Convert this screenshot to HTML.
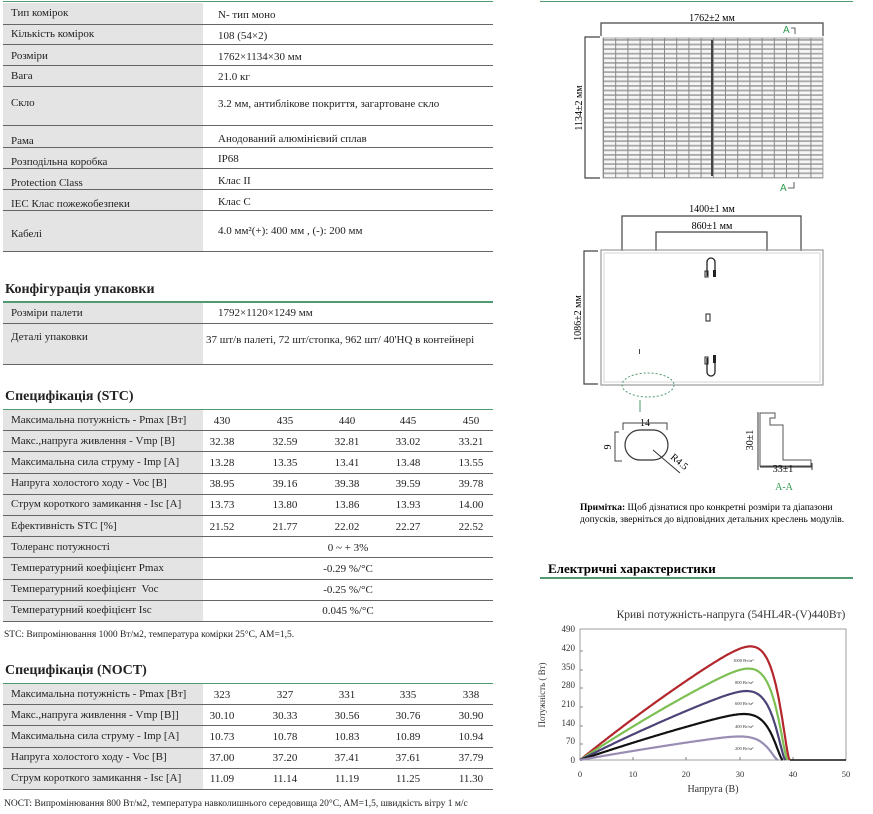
<!DOCTYPE html>
<html><head><meta charset="utf-8">
<style>
*{margin:0;padding:0;box-sizing:border-box}
body{width:873px;height:814px;background:#fff;position:relative;overflow:hidden;font-family:"Liberation Serif","DejaVu Serif",serif;color:#222;font-size:11px}
.r{position:absolute;left:3px;width:490px;border-bottom:1px solid #666}
.l{position:absolute;left:0;top:0;bottom:0;width:200px;background:#e4e4e4}
.t{position:absolute;white-space:nowrap;font-size:11px}
.v{position:absolute;white-space:nowrap;font-size:11px;transform:translateX(-50%)}
.h{position:absolute;left:5px;font-weight:bold;font-size:14px;white-space:nowrap}
.g{position:absolute;height:2px;background:#4f9a6e}
.f{position:absolute;left:4px;font-size:9.5px;white-space:nowrap}
</style></head><body>

<div class="g" style="left:3px;top:1px;width:490px;height:1px"></div>
<div class="g" style="left:540px;top:1px;width:313px;height:1px"></div>

<div class="r" style="top:3px;height:22px"><div class="l"></div><span class="t" style="left:8px;top:4px">Тип комірок</span><span class="t" style="left:215px;top:6px">N- тип моно</span></div>
<div class="r" style="top:25px;height:20px"><div class="l"></div><span class="t" style="left:8px;top:3px">Кількість комірок</span><span class="t" style="left:215px;top:5px">108 (54×2)</span></div>
<div class="r" style="top:45px;height:21px"><div class="l"></div><span class="t" style="left:8px;top:5px">Розміри</span><span class="t" style="left:215px;top:6px">1762×1134×30 мм</span></div>
<div class="r" style="top:66px;height:21px"><div class="l"></div><span class="t" style="left:8px;top:4px">Вага</span><span class="t" style="left:215px;top:5px">21.0 кг</span></div>
<div class="r" style="top:87px;height:39px"><div class="l"></div><span class="t" style="left:8px;top:10px">Скло</span><span class="t" style="left:215px;top:11px">3.2 мм, антиблікове покриття, загартоване скло</span></div>
<div class="r" style="top:126px;height:22px"><div class="l"></div><span class="t" style="left:8px;top:9px">Рама</span><span class="t" style="left:215px;top:7px">Анодований алюмінієвий сплав</span></div>
<div class="r" style="top:148px;height:21px"><div class="l"></div><span class="t" style="left:8px;top:8px">Розподільна коробка</span><span class="t" style="left:215px;top:5px">IP68</span></div>
<div class="r" style="top:169px;height:21px"><div class="l"></div><span class="t" style="left:8px;top:8px">Protection Class</span><span class="t" style="left:215px;top:6px">Клас II</span></div>
<div class="r" style="top:190px;height:21px"><div class="l"></div><span class="t" style="left:8px;top:8px">IEC Клас пожежобезпеки</span><span class="t" style="left:215px;top:6px">Клас С</span></div>
<div class="r" style="top:211px;height:41px"><div class="l"></div><span class="t" style="left:8px;top:17px">Кабелі</span><span class="t" style="left:215px;top:14px">4.0 мм²(+): 400 мм , (-): 200 мм</span></div>

<div class="h" style="top:282px">Конфігурація упаковки</div>
<div class="g" style="left:3px;top:301px;width:490px"></div>
<div class="r" style="top:303px;height:21px"><div class="l"></div><span class="t" style="left:8px;top:4px">Розміри палети</span><span class="t" style="left:215px;top:4px">1792×1120×1249 мм</span></div>
<div class="r" style="top:324px;height:41px"><div class="l"></div><span class="t" style="left:8px;top:7px">Деталі упаковки</span><span class="t" style="left:203px;top:10px">37 шт/в палеті, 72 шт/стопка, 962 шт/ 40'HQ в контейнері</span></div>

<div class="h" style="top:389px">Специфікація (STC)</div>
<div class="g" style="left:3px;top:409px;width:490px;height:1px"></div>
<div id="stc"></div>
<div class="f" style="top:630px">STC: Випромінювання 1000 Вт/м2, температура комірки 25°C, AM=1,5.</div>

<div class="h" style="top:663px">Специфікація (NOCT)</div>
<div class="g" style="left:3px;top:683px;width:490px;height:1px"></div>
<div id="noct"></div>
<div class="f" style="top:799px">NOCT: Випромінювання 800 Вт/м2, температура навколишнього середовища 20°C, AM=1,5, швидкість вітру 1 м/с</div>

<script>
function tbl(id,top,h,rows){var s='';rows.forEach(function(r,i){var y=top+i*h;s+='<div class="r" style="top:'+y+'px;height:'+h+'px"><div class="l"></div><span class="t" style="left:8px;top:'+(h/2-7)+'px">'+r[0]+'</span>';
if(r.length==2){s+='<span class="v" style="left:345px;top:'+(h/2-6)+'px">'+r[1]+'</span>';}else{var xs=[219,282,344,405,468];for(var k=1;k<6;k++)s+='<span class="v" style="left:'+xs[k-1]+'px;top:'+(h/2-6)+'px">'+r[k]+'</span>';}
s+='</div>';});document.getElementById(id).innerHTML=s;}
tbl('stc',410,21.2,[
['Максимальна потужність - Pmax [Вт]','430','435','440','445','450'],
['Макс.,напруга живлення - Vmp [В]','32.38','32.59','32.81','33.02','33.21'],
['Максимальна сила струму - Imp [A]','13.28','13.35','13.41','13.48','13.55'],
['Напруга холостого ходу - Voc [В]','38.95','39.16','39.38','39.59','39.78'],
['Струм короткого замикання - Isc [A]','13.73','13.80','13.86','13.93','14.00'],
['Ефективність STC [%]','21.52','21.77','22.02','22.27','22.52'],
['Толеранс потужності','0 ~ + 3%'],
['Температурний коефіцієнт Pmax','-0.29 %/°C'],
['Температурний коефіцієнт&nbsp; Voc','-0.25 %/°C'],
['Температурний коефіцієнт Isc','0.045 %/°C']]);
tbl('noct',684,21.2,[
['Максимальна потужність - Pmax [Вт]','323','327','331','335','338'],
['Макс.,напруга живлення - Vmp [В]]','30.10','30.33','30.56','30.76','30.90'],
['Максимальна сила струму - Imp [A]','10.73','10.78','10.83','10.89','10.94'],
['Напруга холостого ходу - Voc [В]','37.00','37.20','37.41','37.61','37.79'],
['Струм короткого замикання - Isc [A]','11.09','11.14','11.19','11.25','11.30']]);
</script>

<svg style="position:absolute;left:0;top:0" width="873" height="600" font-family="Liberation Serif, serif">
<defs>
<pattern id="hl" x="0" y="39" width="10" height="4.6" patternUnits="userSpaceOnUse"><rect width="10" height="4.6" fill="#f6f6f6"/><rect y="0" width="10" height="1.8" fill="#a8a8a8"/></pattern>
<pattern id="vl" x="603" y="0" width="12.2" height="10" patternUnits="userSpaceOnUse"><rect x="0" width="1" height="10" fill="#888"/></pattern>
</defs>
<text x="712" y="21" font-size="10" text-anchor="middle">1762±2 мм</text>
<path d="M601 36V23H823V36" fill="none" stroke="#444" stroke-width="1.2"/>
<text x="783" y="33" font-size="10" fill="#2e9a4c" font-family="Liberation Sans, sans-serif">A</text><path d="M791 28h4v6" fill="none" stroke="#333" stroke-width="0.8"/>
<rect x="603" y="38" width="220" height="140" fill="url(#hl)" stroke="#aaa"/>
<rect x="603" y="38" width="220" height="140" fill="url(#vl)"/>
<rect x="711" y="40" width="2" height="136" fill="#444"/>
<path d="M600 37H585V178H600" fill="none" stroke="#444" stroke-width="1.2"/>
<text transform="translate(582 108) rotate(-90)" font-size="10" text-anchor="middle">1134±2 мм</text>
<text x="780" y="191" font-size="10" fill="#2e9a4c" font-family="Liberation Sans, sans-serif">A</text><path d="M788 188h6v-6" fill="none" stroke="#333" stroke-width="0.8"/>

<text x="712" y="212" font-size="10" text-anchor="middle">1400±1 мм</text>
<path d="M622 251V216H801V251" fill="none" stroke="#444" stroke-width="1.2"/>
<text x="712" y="229" font-size="10" text-anchor="middle">860±1 мм</text>
<path d="M656 251V232H767V251" fill="none" stroke="#444" stroke-width="1.2"/>
<rect x="601" y="250" width="222" height="135" fill="none" stroke="#999" stroke-width="1.2"/>
<rect x="604" y="253" width="216" height="129" fill="none" stroke="#ccc" stroke-width="0.8"/>
<path d="M598 251H584V384H598" fill="none" stroke="#444" stroke-width="1.2"/>
<text transform="translate(581 318) rotate(-90)" font-size="10" text-anchor="middle">1086±2 мм</text>
<path d="M707 276V262a4 4 0 0 1 8 0V276" fill="none" stroke="#222" stroke-width="1.3"/><rect x="705" y="271" width="3" height="6" fill="none" stroke="#222"/><rect x="713" y="270" width="3" height="7" fill="#222"/>
<rect x="706" y="314" width="4" height="7" fill="none" stroke="#222"/>
<path d="M707 358V372a4 4 0 0 0 8 0V358" fill="none" stroke="#222" stroke-width="1.3"/><rect x="705" y="357" width="3" height="7" fill="none" stroke="#222"/><rect x="713" y="355" width="3" height="8" fill="#222"/>
<rect x="639" y="349" width="1" height="5" fill="#444"/>
<ellipse cx="648" cy="385" rx="26" ry="12" fill="none" stroke="#4f9a6e" stroke-dasharray="2 2"/>
<rect x="639.5" y="400" width="1" height="12" fill="#4f9a6e"/>

<text x="645" y="426" font-size="10" text-anchor="middle">14</text>
<path d="M623 430V423H667V430" fill="none" stroke="#444"/>
<rect x="625" y="430" width="43" height="30" rx="15" fill="none" stroke="#333" stroke-width="1.2"/>
<path d="M619 432H615V461H622" fill="none" stroke="#444"/>
<text transform="translate(611 447) rotate(-90)" font-size="10" text-anchor="middle">9</text>
<path d="M653 450L680 473" stroke="#333"/>
<text transform="translate(670 458) rotate(40)" font-size="10">R4.5</text>

<path d="M760 413H775V418H770V425H783V460H811V466H760Z" fill="none" stroke="#555"/>
<path d="M758 412V470M760 467H812M812 463V470" fill="none" stroke="#333"/>
<text transform="translate(753 440) rotate(-90)" font-size="10" text-anchor="middle">30±1</text>
<text x="783" y="472" font-size="10" text-anchor="middle">33±1</text>
<text x="784" y="490" font-size="10" fill="#2e9a4c" text-anchor="middle">A-A</text>

<text x="580" y="510" font-size="9.5"><tspan font-weight="bold">Примітка:</tspan> Щоб дізнатися про конкретні розміри та діапазони</text>
<text x="580" y="522" font-size="9.5">допусків, зверніться до відповідних детальних креслень модулів.</text>
<text x="548" y="573" font-size="13" font-weight="bold">Електричні характеристики</text>
<rect x="540" y="577" width="313" height="2" fill="#4f9a6e"/>
</svg>

<svg style="position:absolute;left:530px;top:600px" width="343" height="214" font-family="Liberation Serif, serif">
<text x="201" y="18" font-size="11.5" text-anchor="middle" fill="#333">Криві потужність-напруга (54HL4R-(V)440Вт)</text>
<rect x="50" y="29" width="266" height="131" fill="#fff" stroke="#888" stroke-width="0.8"/>
<g font-size="9" fill="#333" text-anchor="end">
<text x="45" y="32">490</text><text x="45" y="51">420</text><text x="45" y="70">350</text><text x="45" y="88">280</text><text x="45" y="107">210</text><text x="45" y="126">140</text><text x="45" y="144">70</text><text x="45" y="163">0</text></g>
<g font-size="8.5" fill="#333" text-anchor="middle">
<text x="50" y="177">0</text><text x="103" y="177">10</text><text x="156" y="177">20</text><text x="210" y="177">30</text><text x="263" y="177">40</text><text x="316" y="177">50</text></g>
<g stroke="#666" stroke-width="0.8"><path d="M103 160v-3M156 160v-3M210 160v-3M263 160v-3M50 51h3M50 70h3M50 88h3M50 107h3M50 126h3M50 144h3"/></g>
<text x="183" y="192" font-size="10" text-anchor="middle" fill="#333">Напруга (В)</text>
<text transform="translate(15 95) rotate(-90)" font-size="9" text-anchor="middle" fill="#333">Потужність ( Вт)</text>
<g id="curves"></g>
<g font-size="4.5" fill="#333">
<text x="203" y="62">1000 Вт/м²</text><text x="205" y="84">800 Вт/м²</text><text x="205" y="105">600 Вт/м²</text><text x="205" y="128">400 Вт/м²</text><text x="205" y="150">200 Вт/м²</text></g>
</svg>
<script>
(function(){var cs=[[425,39.4,'#b3262c'],[342,39.0,'#7dbf52'],[258,38.6,'#4c4478'],[172,38.1,'#111'],[88,37.2,'#998db3']];var s='';
cs.forEach(function(c){var a=2.2,b=1.6,pts=[],mx=0;for(var v=0;v<=c[1];v+=0.2){var q=1-Math.exp((v-c[1])/a);var p=v*Math.pow(Math.max(q,0),b)*(1-0.004*v);pts.push([v,p]);if(p>mx)mx=p;}pts.push([c[1],0]);
var d='';pts.forEach(function(p,i){var x=50+p[0]*5.32,y=160-p[1]/mx*c[0]*0.2673;d+=(i?'L':'M')+x.toFixed(1)+' '+y.toFixed(1);});
s+='<path d="'+d+'" fill="none" stroke="'+c[2]+'" stroke-width="2.2"/>';});
s+='<path d="M260 160H316" stroke="#111" stroke-width="1.5"/>';
document.getElementById('curves').innerHTML=s;})();
</script>
</body></html>
